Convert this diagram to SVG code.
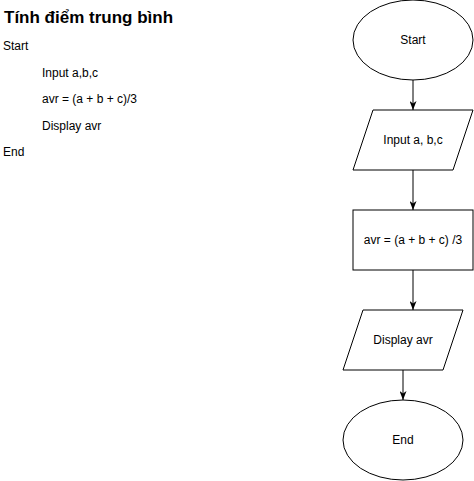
<svg xmlns="http://www.w3.org/2000/svg" width="474" height="481" viewBox="0 0 474 481">
  <style>
    .shape { fill: #ffffff; stroke: #000000; stroke-width: 1; }
    .lbl { font-family: "Liberation Sans", Arial, sans-serif; font-size: 12px; fill: #000000; }
    .ctr { text-anchor: middle; dominant-baseline: central; }
    .title { font-family: "Liberation Sans", Arial, sans-serif; font-size: 17px; font-weight: bold; fill: #000000; }
    .edge { fill: none; stroke: #000000; stroke-width: 1; }
  </style>
  <defs>
    <marker id="arrow" viewBox="0 0 9 7" refX="9" refY="3.5" markerWidth="9" markerHeight="7" markerUnits="userSpaceOnUse" orient="auto">
      <path d="M0,0 L9,3.5 L0,7 L2.5,3.5 Z" fill="#000000" stroke="none"/>
    </marker>
  </defs>
  <rect width="474" height="481" fill="#ffffff"/>

  <g id="description">
    <text class="title" x="4" y="23">Tính điểm trung bình</text>
    <text class="lbl" x="3" y="50">Start</text>
    <text class="lbl" x="42" y="77">Input a,b,c</text>
    <text class="lbl" x="42" y="103">avr = (a + b + c)/3</text>
    <text class="lbl" x="42" y="130">Display avr</text>
    <text class="lbl" x="3" y="156">End</text>
  </g>

  <g id="connectors">
    <path class="edge" d="M413,80 L413,110" marker-end="url(#arrow)"/>
    <path class="edge" d="M413,170 L413,210" marker-end="url(#arrow)"/>
    <path class="edge" d="M413,270 L413,310" marker-end="url(#arrow)"/>
    <path class="edge" d="M403,370 L403,400" marker-end="url(#arrow)"/>
  </g>

  <g id="node-start">
    <ellipse class="shape" cx="413" cy="40" rx="60" ry="40"/>
    <text class="lbl ctr" x="413" y="40">Start</text>
  </g>

  <g id="node-input">
    <polygon class="shape" points="373,110 473,110 453,170 353,170"/>
    <text class="lbl ctr" x="413" y="140">Input a, b,c</text>
  </g>

  <g id="node-calc">
    <rect class="shape" x="353" y="210" width="120" height="60"/>
    <text class="lbl ctr" x="413" y="240">avr = (a + b + c) /3</text>
  </g>

  <g id="node-display">
    <polygon class="shape" points="363,310 463,310 443,370 343,370"/>
    <text class="lbl ctr" x="403" y="340">Display avr</text>
  </g>

  <g id="node-end">
    <ellipse class="shape" cx="403" cy="440" rx="60" ry="40"/>
    <text class="lbl ctr" x="403" y="440">End</text>
  </g>
</svg>
